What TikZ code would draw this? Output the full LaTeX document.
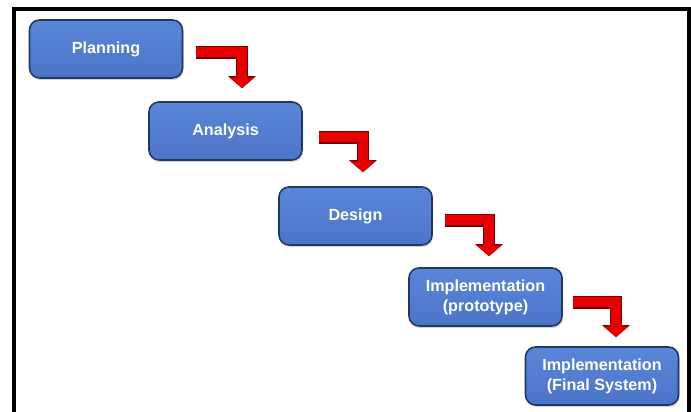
\documentclass[tikz,border=0pt]{standalone}
\usepackage{fontspec}
\setmainfont{Liberation Sans}
\usetikzlibrary{calc}
\usetikzlibrary{arrows.meta}
\usetikzlibrary{shadows}

\definecolor{boxtop}{RGB}{90,134,216}
\definecolor{boxbottom}{RGB}{74,116,200}
\definecolor{boxline}{RGB}{34,56,100}
\definecolor{arrowred}{RGB}{232,0,0}
\definecolor{arrowdark}{RGB}{120,0,0}

\tikzset{
  phase/.style={rounded corners=0.2cm, minimum width=3.06cm, minimum height=1.16cm,
    top color=boxtop, bottom color=boxbottom, draw=boxline, line width=0.9pt,
    drop shadow={opacity=0.35, shadow xshift=0.02cm, shadow yshift=-0.04cm},
    text=white, align=center, font=\bfseries\fontsize{9.2}{11.3}\selectfont},
  flow/.style={line width=0.2cm, arrowred, line join=miter,
    -{Triangle[width=0.48cm, length=0.21cm]},
    preaction={draw, line width=0.25cm, arrowdark, line join=miter,
      -{Triangle[width=0.54cm, length=0.24cm]}}}
}

\begin{document}
\begin{tikzpicture}
    \useasboundingbox (0, 0) rectangle (13.82, 8.24);
    \draw[line width=0.08cm, line join=miter] (0.29, 0) -- (0.29, 8.06) -- (13.78, 8.06) -- (13.78, 0);

    \node[phase] (plan) at (2.12, 7.26) {Planning};
    \node[phase] (anal) at (4.51, 5.62) {Analysis};
    \node[phase] (desi) at (7.11, 3.92) {Design};
    \node[phase] (proto) at (9.71, 2.30) {Implementation\\(prototype)};
    \node[phase] (final) at (12.04, 0.72) {Implementation\\(Final System)};

    \draw[flow] ($(plan.east) + (0.26, -0.07)$) -| ($(anal.north) + (0.33, 0.26)$);
    \draw[flow] ($(anal.east) + (0.32, -0.13)$) -| ($(desi.north) + (0.15, 0.28)$);
    \draw[flow] ($(desi.east) + (0.24, -0.09)$) -| ($(proto.north) + (0.07, 0.22)$);
    \draw[flow] ($(proto.east) + (0.20, -0.11)$) -| ($(final.north) + (0.28, 0.18)$);
  \end{tikzpicture}
\end{document}
